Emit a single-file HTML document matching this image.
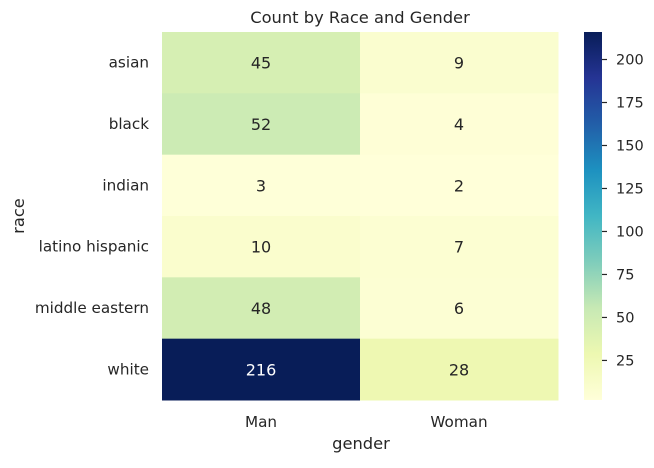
<!DOCTYPE html>
<html><head><meta charset="utf-8"><style>
body{margin:0;background:#fff;}
svg{font-family:"DejaVu Sans","Liberation Sans",sans-serif;}
</style></head><body>
<svg id="chart" width="654" height="463">
<defs><linearGradient id="cbg" x1="0" y1="1" x2="0" y2="0">
<stop offset="0" stop-color="#ffffd9"/><stop offset="0.125" stop-color="#edf8b1"/><stop offset="0.25" stop-color="#c7e9b4"/><stop offset="0.375" stop-color="#7fcdbb"/><stop offset="0.5" stop-color="#41b6c4"/><stop offset="0.625" stop-color="#1d91c0"/><stop offset="0.75" stop-color="#225ea8"/><stop offset="0.875" stop-color="#253494"/><stop offset="1" stop-color="#081d58"/>
</linearGradient></defs>
<text x="360" y="23" text-anchor="middle" font-size="16.3" fill="#262626">Count by Race and Gender</text>
<g id="cells"></g>
<text x="361" y="449" text-anchor="middle" font-size="16.3" fill="#262626">gender</text>
<text transform="translate(24,216) rotate(-90)" text-anchor="middle" font-size="16.3" fill="#262626">race</text>
<rect x="584" y="32" width="18" height="368" fill="url(#cbg)"/>
<g id="cbticks"></g>
</svg>
<script>
const races = ["asian","black","indian","latino hispanic","middle eastern","white"];
const genders = ["Man","Woman"];
const manCounts = [45,52,3,10,48,216];
const womanCounts = [9,4,2,7,6,28];
const cbTicks = [25,50,75,100,125,150,175,200];
const vmin = 2, vmax = 216;
const X0=162, CW=198, Y0=32, RH=368/6;
const stops=["#ffffd9","#edf8b1","#c7e9b4","#7fcdbb","#41b6c4","#1d91c0","#225ea8","#253494","#081d58"];
function hex(h){return [1,3,5].map(i=>parseInt(h.substr(i,2),16));}
function color(v){let t=Math.max(0,Math.min(1,(v-vmin)/(vmax-vmin)))*8;let i=Math.min(7,Math.floor(t));let f=t-i;let a=hex(stops[i]),b=hex(stops[i+1]);return "rgb("+a.map((c,k)=>Math.round(c+(b[k]-c)*f)).join(",")+")";}
function cbY(v){return 400-(v-vmin)/(vmax-vmin)*368;}
const NS="http://www.w3.org/2000/svg";
const g=document.getElementById("cells");
const series=[manCounts,womanCounts];
function mk(tag,attrs,txt){const e=document.createElementNS(NS,tag);for(const k in attrs)e.setAttribute(k,attrs[k]);if(txt!==undefined)e.textContent=txt;return e;}
series.forEach((vals,ci)=>{
  vals.forEach((v,ri)=>{
    const r=mk("rect",{x:X0+ci*CW,y:Y0+ri*RH,width:CW+0.5,height:RH+0.5,fill:color(v)});
    
    
    g.appendChild(r);
    const t=mk("text",{x:X0+ci*CW+CW/2,y:Y0+ri*RH+RH/2+6,"text-anchor":"middle","font-size":"16",fill:(v-vmin)/(vmax-vmin)>0.5?"#fff":"#262626"},String(v));
    
    
    g.appendChild(t);
  });
});
races.forEach((r,ri)=>{
  const t=mk("text",{x:149,y:Y0+ri*RH+RH/2+5,"text-anchor":"end","font-size":"15.2",fill:"#262626"},r);
  
  
  g.appendChild(t);
});
genders.forEach((gn,ci)=>{
  const t=mk("text",{x:X0+ci*CW+CW/2,y:427,"text-anchor":"middle","font-size":"15.2",fill:"#262626"},gn);
  
  
  g.appendChild(t);
});
const cb=document.getElementById("cbticks");
cbTicks.forEach(v=>{
  const y=cbY(v);
  const l=mk("line",{x1:602,x2:607,y1:y,y2:y,stroke:"#262626","stroke-width":"1.2"});
  
  
  cb.appendChild(l);
  const t=mk("text",{x:616,y:y+5,"font-size":"14.5",fill:"#262626"},String(v));
  
  
  cb.appendChild(t);
});
</script>
</body></html>
